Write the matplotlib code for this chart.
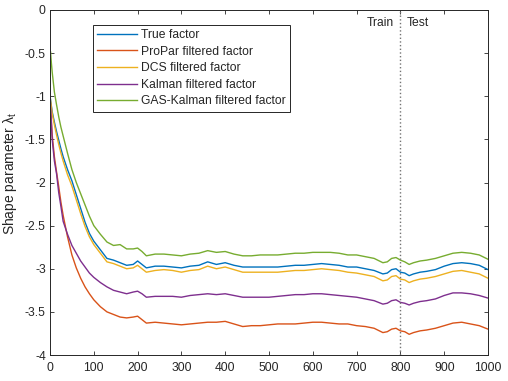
import matplotlib
matplotlib.use("Agg")
import matplotlib.pyplot as plt

plt.rcParams['font.family'] = ['Liberation Sans', 'DejaVu Sans']
plt.rcParams['mathtext.fontset'] = 'custom'
plt.rcParams['mathtext.rm'] = 'Liberation Sans'
plt.rcParams['mathtext.it'] = 'Liberation Sans'

# time index of the sampled points
t = [0, 1, 2, 5, 10, 15, 20, 25, 30, 40, 50, 60, 70, 80, 90, 100, 115, 130, 145,
     160, 175, 190, 200, 210, 220,
     240, 260, 280, 300, 320, 340, 360, 380, 400, 420, 440, 460, 480, 500, 520,
     540, 560, 580, 600, 620, 640, 660, 680, 700, 720, 740, 760,
     770, 780, 790, 800, 810, 820, 830, 845, 860,
     880, 900, 920, 940, 960, 980, 1000]

true_factor = [-1.00, -1.03, -1.07, -1.18, -1.30, -1.41, -1.51, -1.61, -1.70, -1.85,
               -1.98, -2.14, -2.30, -2.46, -2.59, -2.68, -2.78, -2.88, -2.90, -2.93,
               -2.96, -2.95, -2.91, -2.95, -2.99,
               -2.97, -2.97, -2.98, -2.99, -2.97, -2.96, -2.92, -2.95, -2.93, -2.96,
               -2.98, -2.98, -2.98, -2.98, -2.98, -2.97, -2.96, -2.96, -2.95, -2.94,
               -2.95, -2.96, -2.98, -2.98, -3.00, -3.02, -3.06,
               -3.05, -3.01, -3.00, -3.04, -3.05, -3.08, -3.06, -3.04, -3.03,
               -3.01, -2.97, -2.94, -2.93, -2.94, -2.96, -3.01]

propar = [-1.00, -1.08, -1.17, -1.45, -1.70, -1.88, -2.05, -2.23, -2.38, -2.63,
          -2.84, -2.99, -3.11, -3.21, -3.29, -3.36, -3.44, -3.50, -3.53, -3.56,
          -3.57, -3.56, -3.55, -3.59, -3.63,
          -3.62, -3.63, -3.64, -3.65, -3.64, -3.63, -3.62, -3.62, -3.61, -3.64,
          -3.67, -3.66, -3.66, -3.65, -3.64, -3.64, -3.64, -3.63, -3.62, -3.62,
          -3.63, -3.64, -3.64, -3.66, -3.67, -3.69, -3.74,
          -3.73, -3.70, -3.69, -3.72, -3.73, -3.76, -3.74, -3.72, -3.71,
          -3.69, -3.66, -3.63, -3.62, -3.64, -3.66, -3.70]

dcs = [-1.00, -1.04, -1.08, -1.20, -1.33, -1.45, -1.56, -1.66, -1.75, -1.91,
       -2.04, -2.20, -2.36, -2.51, -2.63, -2.72, -2.82, -2.92, -2.94, -2.97,
       -3.00, -2.99, -2.96, -3.00, -3.04,
       -3.02, -3.01, -3.02, -3.04, -3.02, -3.01, -2.97, -3.00, -2.98, -3.01,
       -3.04, -3.04, -3.04, -3.04, -3.04, -3.03, -3.02, -3.02, -3.01, -3.00,
       -3.01, -3.02, -3.04, -3.05, -3.07, -3.09, -3.14,
       -3.13, -3.09, -3.08, -3.12, -3.13, -3.16, -3.14, -3.12, -3.11,
       -3.09, -3.06, -3.03, -3.02, -3.04, -3.06, -3.11]

kalman = [-1.00, -1.10, -1.20, -1.50, -1.75, -1.90, -2.12, -2.28, -2.45, -2.60,
          -2.73, -2.82, -2.91, -2.98, -3.05, -3.10, -3.16, -3.21, -3.25, -3.27,
          -3.29, -3.27, -3.26, -3.29, -3.33,
          -3.32, -3.32, -3.32, -3.33, -3.31, -3.30, -3.29, -3.30, -3.29, -3.31,
          -3.33, -3.33, -3.33, -3.33, -3.32, -3.31, -3.30, -3.30, -3.29, -3.29,
          -3.30, -3.31, -3.32, -3.33, -3.35, -3.37, -3.41,
          -3.40, -3.37, -3.36, -3.39, -3.40, -3.42, -3.40, -3.38, -3.37,
          -3.35, -3.31, -3.28, -3.28, -3.29, -3.31, -3.34]

gas_kalman = [-1.00, -0.48, -0.55, -0.72, -0.95, -1.10, -1.24, -1.36, -1.46, -1.66,
              -1.85, -2.00, -2.13, -2.26, -2.39, -2.50, -2.60, -2.69, -2.73, -2.72,
              -2.77, -2.77, -2.76, -2.80, -2.85,
              -2.83, -2.83, -2.84, -2.85, -2.83, -2.82, -2.79, -2.81, -2.80, -2.83,
              -2.85, -2.85, -2.84, -2.84, -2.84, -2.83, -2.82, -2.82, -2.81, -2.81,
              -2.81, -2.82, -2.84, -2.84, -2.86, -2.88, -2.93,
              -2.92, -2.88, -2.87, -2.90, -2.92, -2.95, -2.93, -2.91, -2.90,
              -2.88, -2.85, -2.82, -2.81, -2.82, -2.84, -2.89]

labels = ['True factor', 'ProPar filtered factor', 'DCS filtered factor',
          'Kalman filtered factor', 'GAS-Kalman filtered factor']
colors = ['#0072BD', '#D95319', '#EDB120', '#7E2F8E', '#77AC30']
split = 800

dark = '#262626'

fig = plt.figure(figsize=(5.08, 3.81), dpi=100)
ax = fig.add_axes([50 / 508, 1 - 355 / 381, 438 / 508, 345 / 381])

for y, lab, c in zip([true_factor, propar, dcs, kalman, gas_kalman], labels, colors):
    ax.plot(t, y, color=c, lw=1.0, label=lab)

# train / test split marker
ax.axvline(split, color='0.45', ls=':', lw=1.0)
ax.text(split - 15, -0.15, 'Train', ha='right', va='center', fontsize=8.7, color=dark)
ax.text(split + 15, -0.15, 'Test', ha='left', va='center', fontsize=8.7, color=dark)

ax.set_xlim(0, 1000)
ax.set_ylim(-4, 0)
ax.set_xticks(range(0, 1001, 100))
ax.set_yticks([-4, -3.5, -3, -2.5, -2, -1.5, -1, -0.5, 0])
ax.set_yticklabels(['-4', '-3.5', '-3', '-2.5', '-2', '-1.5', '-1', '-0.5', '0'])

ax.tick_params(direction='in', top=True, right=True, length=3, width=0.6,
               labelsize=8.7, colors=dark)
ax.tick_params(axis='x', pad=5)
ax.tick_params(axis='y', pad=3)
for s in ax.spines.values():
    s.set_color(dark)
    s.set_linewidth(0.7)

ax.set_ylabel('Shape parameter λ$_{\\mathrm{t}}$', fontsize=10, color=dark)
ax.yaxis.set_label_coords(-0.071, 0.525)

leg = ax.legend(loc='upper left', bbox_to_anchor=(0.098, 0.957), borderaxespad=0,
                fontsize=8.7, frameon=True, fancybox=False, framealpha=1,
                edgecolor=dark, handlelength=3.3, handletextpad=0.3,
                labelspacing=0.38, borderpad=0.35)
leg.get_frame().set_linewidth(0.7)
for txt in leg.get_texts():
    txt.set_color(dark)

fig.savefig('out.png', dpi=100)
